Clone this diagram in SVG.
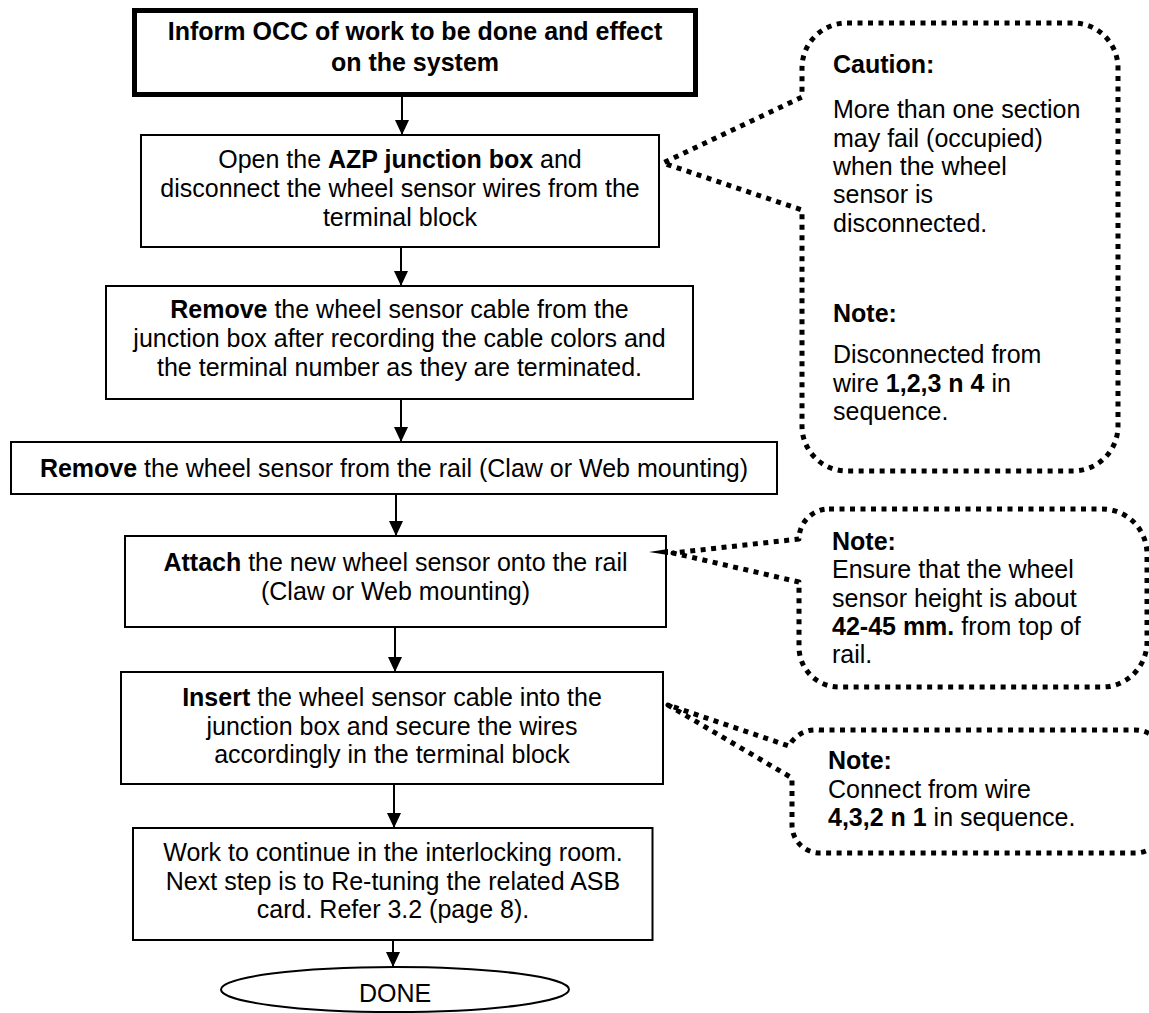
<svg xmlns="http://www.w3.org/2000/svg" width="1149" height="1013" viewBox="0 0 1149 1013">
  <style>
    text { font-family: "Liberation Sans", Arial, sans-serif; font-size: 25px; fill: #000; }
    .c { text-anchor: middle; }
    .b { font-weight: bold; }
    .box { fill: #fff; stroke: #000; stroke-width: 2; }
    .start { fill: #fff; stroke: #000; stroke-width: 5; }
    .flow { fill: none; stroke: #000; stroke-width: 2; }
    .callout { fill: none; stroke: #000; stroke-width: 5; stroke-dasharray: 5 5.5; stroke-linejoin: round; }
  </style>
  <defs>
    <marker id="arrow" markerUnits="userSpaceOnUse" markerWidth="15" markerHeight="14" refX="15" refY="7" orient="auto">
      <path d="M0,0 L15,7 L0,14 Z" fill="#000"/>
    </marker>
  </defs>
  <rect width="1149" height="1013" fill="#fff"/>

  <!-- flow arrows between steps -->
  <g id="connectors">
    <line class="flow" x1="402" y1="97" x2="402" y2="135" marker-end="url(#arrow)"/>
    <line class="flow" x1="401" y1="247" x2="401" y2="286" marker-end="url(#arrow)"/>
    <line class="flow" x1="401" y1="399" x2="401" y2="442" marker-end="url(#arrow)"/>
    <line class="flow" x1="396" y1="494" x2="396" y2="536" marker-end="url(#arrow)"/>
    <line class="flow" x1="395" y1="627" x2="395" y2="672" marker-end="url(#arrow)"/>
    <line class="flow" x1="394" y1="784" x2="394" y2="828" marker-end="url(#arrow)"/>
    <line class="flow" x1="393" y1="940" x2="393" y2="967" marker-end="url(#arrow)"/>
  </g>

  <g id="step-inform">
    <rect class="start" x="134.5" y="10.5" width="561" height="84"/>
    <text class="c b" x="415" y="40">Inform OCC of work to be done and effect</text>
    <text class="c b" x="415" y="71">on the system</text>
  </g>

  <g id="step-open">
    <rect class="box" x="141" y="135" width="518" height="112"/>
    <text class="c" x="400" y="168">Open the <tspan class="b">AZP junction box</tspan> and</text>
    <text class="c" x="400" y="197">disconnect the wheel sensor wires from the</text>
    <text class="c" x="400" y="226">terminal block</text>
  </g>

  <g id="step-remove-cable">
    <rect class="box" x="106" y="286" width="587" height="113"/>
    <text class="c" x="399.5" y="318"><tspan class="b">Remove</tspan> the wheel sensor cable from the</text>
    <text class="c" x="399.5" y="347">junction box after recording the cable colors and</text>
    <text class="c" x="399.5" y="376">the terminal number as they are terminated.</text>
  </g>

  <g id="step-remove-sensor">
    <rect class="box" x="11" y="442" width="766" height="52"/>
    <text class="c" x="394" y="477"><tspan class="b">Remove</tspan> the wheel sensor from the rail (Claw or Web mounting)</text>
  </g>

  <g id="step-attach">
    <rect class="box" x="125" y="536" width="541" height="91"/>
    <text class="c" x="395.5" y="571"><tspan class="b">Attach</tspan> the new wheel sensor onto the rail</text>
    <text class="c" x="395.5" y="600">(Claw or Web mounting)</text>
  </g>

  <g id="step-insert">
    <rect class="box" x="121" y="672" width="542" height="112"/>
    <text class="c" x="392" y="706"><tspan class="b">Insert</tspan> the wheel sensor cable into the</text>
    <text class="c" x="392" y="734.5">junction box and secure the wires</text>
    <text class="c" x="392" y="763">accordingly in the terminal block</text>
  </g>

  <g id="step-continue">
    <rect class="box" x="133" y="828" width="519.5" height="112"/>
    <text class="c" x="393" y="861">Work to continue in the interlocking room.</text>
    <text class="c" x="393" y="889.5">Next step is to Re-tuning the related ASB</text>
    <text class="c" x="393" y="918">card. Refer 3.2 (page 8).</text>
  </g>

  <g id="step-done">
    <ellipse class="box" cx="395" cy="989.5" rx="174" ry="22.5"/>
    <text class="c" x="395" y="1002">DONE</text>
  </g>

  <!-- dotted callouts pointing at their steps -->
  <g id="callout-caution">
    <path class="callout" d="M847,23 H1073 A45,45 0 0 1 1118,68 V426 A45,45 0 0 1 1073,471 H847 A45,45 0 0 1 802,426 V210 L663,163 L802,97 V68 A45,45 0 0 1 847,23 Z"/>
    <text class="b" x="833" y="73">Caution:</text>
    <text x="833" y="118">More than one section</text>
    <text x="833" y="147">may fail (occupied)</text>
    <text x="833" y="175">when the wheel</text>
    <text x="833" y="203">sensor is</text>
    <text x="833" y="232">disconnected.</text>
    <text class="b" x="833" y="322">Note:</text>
    <text x="833" y="363">Disconnected from</text>
    <text x="833" y="392">wire <tspan class="b">1,2,3 n 4</tspan> in</text>
    <text x="833" y="420">sequence.</text>
  </g>

  <g id="callout-height">
    <path class="callout" d="M829,509 H1102 A45,45 0 0 1 1147,554 V642 A45,45 0 0 1 1102,687 H839 A40,40 0 0 1 799,647 V582 L673,553 L799,539 A30,30 0 0 1 829,509 Z"/>
    <polygon points="649,552 668,549 668,555" fill="#000"/>
    <text class="b" x="832" y="550">Note:</text>
    <text x="832" y="578">Ensure that the wheel</text>
    <text x="832" y="607">sensor height is about</text>
    <text x="832" y="635"><tspan class="b">42-45 mm.</tspan> from top of</text>
    <text x="832" y="663">rail.</text>
  </g>

  <g id="callout-sequence">
    <path class="callout" d="M819,730 H1135 A30,30 0 0 1 1165,760 V823 A30,30 0 0 1 1135,853 H820 A28,28 0 0 1 792,825 V778 L668,705 L789,746 A30,30 0 0 1 819,730 Z"/>
    <text class="b" x="828" y="769">Note:</text>
    <text x="828" y="797.5">Connect from wire</text>
    <text x="828" y="826"><tspan class="b">4,3,2 n 1</tspan> in sequence.</text>
  </g>
</svg>
